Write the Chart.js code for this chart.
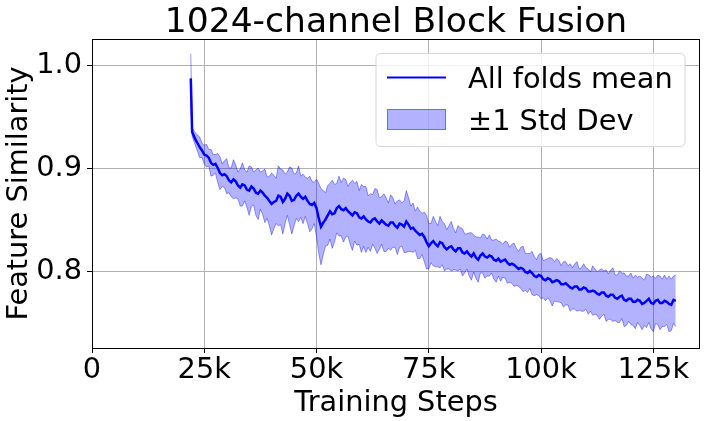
<!DOCTYPE html>
<html><head><meta charset="utf-8">
<style>html,body{margin:0;padding:0;background:#fff}#wrap{width:718px;height:421px;position:relative}</style>
<script src="https://cdn.jsdelivr.net/npm/chart.js@4.4.0/dist/chart.umd.min.js"></script>
</head><body><div id="wrap"><canvas id="c" width="718" height="421"></canvas></div>
<script>
const titleText = '1024-channel Block Fusion';
const xTitle = 'Training Steps';
const yTitle = 'Feature Similarity';
const seriesLabels = ['All folds mean', '±1 Std Dev'];

// training steps (thousands)
const stepsK = [22,22.3,
  23,23.5,24,24.5,25,25.5,26,26.5,27,27.5,28,28.5,29,29.5,30,30.5,31,31.5,32,32.5,
  33,33.5,34,34.5,35,35.5,36,36.5,37,37.5,38,38.5,39,39.5,40,40.5,41,41.5,42,42.5,
  43,43.5,44,44.5,45,45.5,46,46.5,47,47.5,48,48.5,49,49.5,50,50.5,51,51.5,52,52.5,
  53,53.5,54,54.5,55,55.5,56,56.5,57,57.5,58,58.5,59,59.5,60,60.5,61,61.5,62,62.5,
  63,63.5,64,64.5,65,65.5,66,66.5,67,67.5,68,68.5,69,69.5,70,70.5,71,71.5,72,72.5,
  73,73.5,74,74.5,75,75.5,76,76.5,77,77.5,78,78.5,79,79.5,80,80.5,81,81.5,82,82.5,
  83,83.5,84,84.5,85,85.5,86,86.5,87,87.5,88,88.5,89,89.5,90,90.5,91,91.5,92,92.5,
  93,93.5,94,94.5,95,95.5,96,96.5,97,97.5,98,98.5,99,99.5,100,100.5,101,101.5,102,102.5,
  103,103.5,104,104.5,105,105.5,106,106.5,107,107.5,108,108.5,109,109.5,110,110.5,111,111.5,112,112.5,
  113,113.5,114,114.5,115,115.5,116,116.5,117,117.5,118,118.5,119,119.5,120,120.5,121,121.5,122,122.5,
  123,123.5,124,124.5,125,125.5,126,126.5,127,127.5,128,128.5,129,129.5,130];

const meanVals = [0.988,0.936,
  .929,.925,.921,.918,.914,.913,.911,.906,.904,.905,.901,.896,.894,.895,.893,.889,.887,.890,.888,.884,
  .882,.885,.884,.880,.879,.883,.881,.877,.876,.879,.877,.874,.872,.869,.866,.868,.869,.874,.873,.868,
  .871,.876,.874,.869,.870,.874,.876,.873,.871,.873,.869,.866,.865,.867,.862,.852,.844,.848,.851,.855,
  .859,.856,.857,.862,.864,.861,.860,.862,.859,.857,.855,.858,.857,.853,.852,.854,.851,.849,.848,.851,
  .852,.849,.847,.850,.848,.846,.845,.848,.848,.845,.843,.847,.846,.844,.849,.846,.842,.843,.840,.838,
  .836,.837,.834,.829,.825,.828,.830,.827,.825,.829,.828,.824,.822,.824,.825,.822,.820,.823,.823,.819,
  .818,.820,.817,.815,.818,.814,.812,.816,.818,.815,.814,.816,.815,.812,.811,.813,.810,.811,.812,.809,
  .807,.808,.807,.805,.803,.804,.803,.800,.799,.801,.799,.796,.795,.797,.796,.793,.792,.794,.793,.790,
  .791,.792,.791,.788,.788,.789,.787,.785,.784,.786,.786,.783,.783,.785,.784,.781,.781,.782,.781,.779,
  .778,.780,.780,.777,.776,.778,.778,.775,.774,.776,.777,.773,.772,.774,.774,.771,.771,.773,.772,.769,
  .770,.772,.774,.770,.769,.772,.773,.770,.770,.772,.771,.769,.768,.773,.772];

const stdVals = [0.024,0.004,
  .006,.008,.010,.007,.009,.011,.008,.013,.010,.009,.014,.016,.011,.013,.017,.012,.014,.019,.016,.013,
  .018,.021,.015,.017,.024,.019,.016,.022,.025,.018,.021,.026,.020,.024,.030,.026,.022,.029,.027,.031,
  .024,.021,.028,.032,.025,.022,.027,.020,.024,.019,.022,.027,.023,.020,.028,.034,.037,.031,.026,.029,
  .027,.033,.028,.024,.029,.026,.031,.028,.024,.030,.034,.028,.031,.026,.033,.029,.032,.025,.028,.024,
  .029,.031,.025,.023,.028,.026,.022,.027,.024,.021,.026,.023,.021,.025,.030,.026,.022,.024,.019,.025,
  .023,.020,.024,.026,.022,.019,.024,.022,.020,.025,.021,.023,.019,.021,.024,.020,.018,.022,.020,.023,
  .019,.017,.021,.023,.018,.020,.022,.017,.019,.021,.018,.020,.016,.019,.021,.017,.019,.016,.018,.020,
  .017,.019,.021,.018,.017,.020,.022,.018,.019,.017,.021,.019,.017,.020,.022,.018,.020,.019,.021,.023,
  .019,.021,.020,.018,.022,.021,.019,.023,.020,.022,.024,.020,.021,.023,.020,.022,.019,.024,.022,.021,
  .024,.023,.021,.025,.022,.024,.026,.022,.023,.025,.022,.026,.024,.022,.025,.023,.026,.022,.024,.025,
  .022,.026,.023,.025,.027,.022,.024,.026,.023,.025,.022,.027,.025,.023,.025];

const xTicksK = [0,25,50,75,100,125];
const xTickLabels = ['0','25k','50k','75k','100k','125k'];
const yTicks = [0.8,0.9,1.0];
const yTickLabels = ['0.8','0.9','1.0'];

const FONT = 'DejaVu Sans';
const FS = 28.8;
const TFS = 34.5;
Chart.defaults.font.family = FONT;
Chart.defaults.color = '#000';

const meanPts = stepsK.map((s,i)=>({x:s, y:meanVals[i]}));
const upPts = stepsK.map((s,i)=>({x:s, y:meanVals[i]+stdVals[i]}));
const loPts = stepsK.map((s,i)=>({x:s, y:meanVals[i]-stdVals[i]}));

const decor = {
  id:'decor',
  afterDatasetsDraw(chart){
    const {ctx, chartArea:a} = chart;
    ctx.save();
    ctx.strokeStyle='#000'; ctx.lineWidth=1;
    ctx.strokeRect(Math.round(a.left)+0.5, Math.round(a.top)+0.5, Math.round(a.right-a.left)-1, Math.round(a.bottom-a.top));
    ctx.restore();
  },
  afterDraw(chart){
    const {ctx, chartArea:a} = chart;
    ctx.save();
    ctx.fillStyle='#000';
    ctx.font = TFS+'px "'+FONT+'"';
    ctx.textAlign='center'; ctx.textBaseline='alphabetic';
    ctx.fillText(titleText, (a.left+a.right)/2, 32);
    const bx=376, by=53.5, bw=309, bh=93, r=5;
    ctx.beginPath();
    ctx.moveTo(bx+r,by); ctx.lineTo(bx+bw-r,by); ctx.quadraticCurveTo(bx+bw,by,bx+bw,by+r);
    ctx.lineTo(bx+bw,by+bh-r); ctx.quadraticCurveTo(bx+bw,by+bh,bx+bw-r,by+bh);
    ctx.lineTo(bx+r,by+bh); ctx.quadraticCurveTo(bx,by+bh,bx,by+bh-r);
    ctx.lineTo(bx,by+r); ctx.quadraticCurveTo(bx,by,bx+r,by); ctx.closePath();
    ctx.fillStyle='rgba(255,255,255,0.8)'; ctx.fill();
    ctx.strokeStyle='#d6d6d6'; ctx.lineWidth=1; ctx.stroke();
    const meanDs = chart.data.datasets[0], bandDs = chart.data.datasets[1];
    ctx.strokeStyle=meanDs.borderColor; ctx.lineWidth=2;
    ctx.beginPath(); ctx.moveTo(387,77.5); ctx.lineTo(446,77.5); ctx.stroke();
    ctx.fillStyle=bandDs.backgroundColor; ctx.fillRect(387,109,59,21);
    ctx.strokeStyle=bandDs.borderColor; ctx.lineWidth=1; ctx.strokeRect(387.5,109.5,58,20);
    ctx.fillStyle='#000'; ctx.font=FS+'px "'+FONT+'"'; ctx.textAlign='left';
    ctx.fillText(seriesLabels[0], 468, 87.5);
    ctx.fillText(seriesLabels[1], 468, 130);
    ctx.restore();
  }
};

new Chart(document.getElementById('c'), {
  type:'line',
  data:{datasets:[
    {label:seriesLabels[0], data:meanPts, borderColor:'#0000ff', borderWidth:2.5, pointRadius:0, fill:false, tension:0, order:0},
    {label:seriesLabels[1], data:upPts, borderColor:'rgba(0,0,255,0.4)', backgroundColor:'rgba(0,0,255,0.3)', borderWidth:1, pointRadius:0, fill:'+1', tension:0, order:1},
    {label:'lower', data:loPts, borderColor:'rgba(0,0,255,0.4)', borderWidth:1, pointRadius:0, fill:false, tension:0, order:2}
  ]},
  options:{
    responsive:false, animation:false, devicePixelRatio:1,
    layout:{padding:{left:0,right:18,top:39,bottom:0}},
    plugins:{legend:{display:false}, title:{display:false}, tooltip:{enabled:false}},
    scales:{
      x:{type:'linear', min:0, max:135.4,
        afterBuildTicks(s){ s.ticks = xTicksK.map(v=>({value:v})); },
        afterFit(s){ s.height = 73; },
        ticks:{autoSkip:false, maxRotation:0, padding:0, font:{size:FS}, color:'#000',
          callback:(v,i)=>xTickLabels[i]},
        grid:{color:'#b0b0b0', lineWidth:1, tickColor:'#000', tickLength:5, drawTicks:true},
        border:{display:false},
        title:{display:true, text:xTitle, font:{size:FS}, color:'#000', padding:{top:0,bottom:0}}
      },
      y:{type:'linear', min:0.7262, max:1.0262,
        afterBuildTicks(s){ s.ticks = yTicks.map(v=>({value:v})); },
        afterFit(s){ s.width = 92; },
        ticks:{autoSkip:false, padding:5, font:{size:FS}, color:'#000',
          callback:(v,i)=>yTickLabels[i]},
        grid:{color:'#b0b0b0', lineWidth:1, tickColor:'#000', tickLength:5, drawTicks:true},
        border:{display:false},
        title:{display:true, text:yTitle, font:{size:FS}, color:'#000', padding:{top:2,bottom:0}}
      }
    }
  },
  plugins:[decor]
});
</script></body></html>
